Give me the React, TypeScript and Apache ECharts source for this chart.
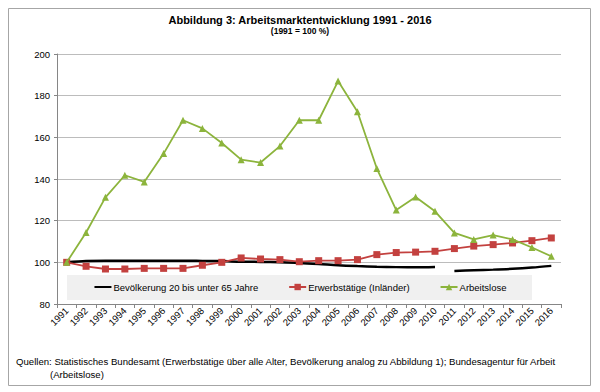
import React, { useEffect, useRef } from "react";
import * as echarts from "echarts";

const years = [
  "1991", "1992", "1993", "1994", "1995", "1996", "1997", "1998", "1999", "2000",
  "2001", "2002", "2003", "2004", "2005", "2006", "2007", "2008", "2009", "2010",
  "2011", "2012", "2013", "2014", "2015", "2016",
];

// Bevölkerung 20 bis unter 65 Jahre (line broken between 2010 and 2011)
const bevoelkerung1991bis2010 = [
  100.0, 100.6, 100.8, 100.8, 100.8, 100.8, 100.8, 100.7, 100.6, 100.3,
  100.2, 100.0, 99.7, 99.2, 98.6, 98.2, 97.9, 97.7, 97.6, 97.8,
];
const bevoelkerung2011bis2016 = [95.8, 96.2, 96.5, 96.9, 97.5, 98.3];

const erwerbstaetige = [
  100.0, 98.1, 96.8, 96.8, 97.1, 97.1, 97.1, 98.6, 100.0, 102.1,
  101.6, 101.3, 100.3, 100.8, 100.8, 101.3, 103.7, 104.7, 104.9, 105.3,
  106.6, 107.8, 108.5, 109.3, 110.4, 111.7,
];

const arbeitslose = [
  100.0, 114.3, 131.2, 141.8, 138.6, 152.2, 168.2, 164.3, 157.3, 149.3,
  147.9, 155.8, 168.2, 168.2, 187.0, 172.3, 145.0, 125.1, 131.4, 124.5,
  114.1, 111.0, 113.1, 111.0, 107.1, 102.9,
];

const yTicks = { min: 80, max: 200, interval: 20 };

const seriesNames = [
  "Bevölkerung 20 bis unter 65 Jahre",
  "Erwerbstätige (Inländer)",
  "Arbeitslose",
];

const titleText = "Abbildung 3: Arbeitsmarktentwicklung 1991 - 2016";
const subtitleText = "(1991 = 100 %)";
const sourceLine1 =
  "Quellen: Statistisches Bundesamt (Erwerbstätige über alle Alter, Bevölkerung analog zu Abbildung 1); Bundesagentur für Arbeit";
const sourceLine2 = "(Arbeitslose)";

const FONT = "'Liberation Sans', Arial, sans-serif";

export default function App() {
  const ref = useRef<HTMLDivElement>(null);

  useEffect(() => {
    document.body.style.margin = "0";
    if (!ref.current) return;
    const chart = echarts.init(ref.current, undefined, { renderer: "svg" });

    const n1 = bevoelkerung1991bis2010.length;
    const bevA = years.map((_, i) => (i < n1 ? bevoelkerung1991bis2010[i] : null));
    const bevB = years.map((_, i) => (i >= n1 ? bevoelkerung2011bis2016[i - n1] : null));

    const black = "#000000";
    const red = "#C3413F";
    const green = "#8CB43C";

    chart.setOption({
      animation: false,
      backgroundColor: "#ffffff",
      textStyle: { fontFamily: FONT },
      title: [
        {
          text: titleText,
          left: "center",
          top: 14,
          padding: 0,
          textStyle: { fontFamily: FONT, fontSize: 11, fontWeight: "bold", color: "#000" },
        },
        {
          text: subtitleText,
          left: "center",
          top: 26.5,
          padding: 0,
          textStyle: { fontFamily: FONT, fontSize: 8.5, fontWeight: "bold", color: "#000" },
        },
      ],
      graphic: [
        {
          type: "rect",
          silent: true,
          z: -10,
          shape: { x: 8.5, y: 8.5, width: 582, height: 377 },
          style: { fill: "none", stroke: "#a6a6a6", lineWidth: 1 },
        },
        {
          type: "rect",
          silent: true,
          z: -5,
          shape: { x: 67, y: 275, width: 465, height: 25 },
          style: { fill: "#f0f0f0" },
        },
        {
          type: "text",
          x: 16,
          y: 361,
          style: {
            text: sourceLine1,
            font: `9.6px ${FONT}`,
            fill: "#000",
            verticalAlign: "middle",
          },
        },
        {
          type: "text",
          x: 50,
          y: 374,
          style: {
            text: sourceLine2,
            font: `9.6px ${FONT}`,
            fill: "#000",
            verticalAlign: "middle",
          },
        },
      ],
      legend: {
        data: [
          { name: seriesNames[0], itemStyle: { opacity: 0 } },
          { name: seriesNames[1] },
          { name: seriesNames[2] },
        ],
        left: "center",
        top: 282,
        padding: 0,
        itemGap: 30,
        itemWidth: 17,
        itemHeight: 8,
        textStyle: { fontFamily: FONT, fontSize: 9.5, color: "#000", padding: [0, 0, 0, -3] },
      },
      grid: { left: 57, right: 39, top: 54, bottom: 88, containLabel: false },
      xAxis: {
        type: "category",
        data: years,
        boundaryGap: true,
        axisLine: { show: true, lineStyle: { color: "#868686", width: 1 } },
        axisTick: { show: true, length: 4, interval: 0, lineStyle: { color: "#868686" } },
        axisLabel: {
          interval: 0,
          rotate: 45,
          margin: 5,
          fontFamily: FONT,
          fontSize: 9.5,
          color: "#000",
        },
        splitLine: { show: false },
      },
      yAxis: {
        type: "value",
        min: yTicks.min,
        max: yTicks.max,
        interval: yTicks.interval,
        axisLine: { show: true, lineStyle: { color: "#868686", width: 1 } },
        axisTick: { show: true, length: 3, lineStyle: { color: "#868686" } },
        axisLabel: { fontFamily: FONT, fontSize: 9.5, color: "#000", margin: 7 },
        splitLine: { show: true, lineStyle: { color: "#bcbcbc", width: 1 } },
      },
      series: [
        {
          name: seriesNames[0],
          type: "line",
          data: bevA,
          symbol: "none",
          smooth: 0.3,
          connectNulls: false,
          lineStyle: { color: black, width: 2.5 },
          itemStyle: { color: black },
          z: 3,
        },
        {
          name: seriesNames[0],
          type: "line",
          data: bevB,
          symbol: "none",
          smooth: 0.3,
          connectNulls: false,
          lineStyle: { color: black, width: 2.5 },
          itemStyle: { color: black },
          z: 3,
        },
        {
          name: seriesNames[1],
          type: "line",
          data: erwerbstaetige,
          symbol: "rect",
          symbolSize: 7,
          lineStyle: { color: red, width: 1.8 },
          itemStyle: { color: red },
          z: 4,
        },
        {
          name: seriesNames[2],
          type: "line",
          data: arbeitslose,
          symbol: "triangle",
          symbolSize: 7,
          lineStyle: { color: green, width: 1.8 },
          itemStyle: { color: green },
          z: 5,
        },
      ],
    });

    return () => {
      chart.dispose();
    };
  }, []);

  return <div ref={ref} style={{ width: 600, height: 392 }} />;
}
